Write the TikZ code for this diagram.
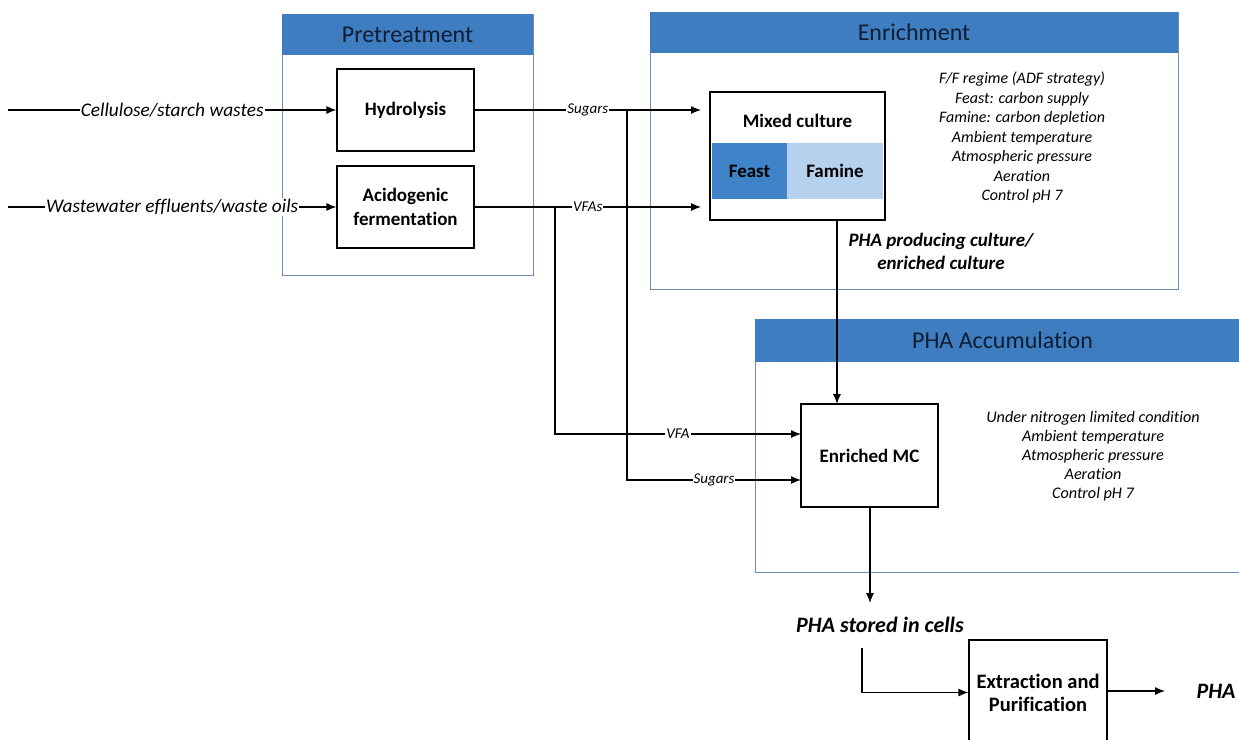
\documentclass[tikz,border=0pt]{standalone}
\usepackage{fontspec}
\setmainfont{Carlito}[Ligatures=NoCommon]
\usetikzlibrary{arrows.meta}
\definecolor{hdr}{HTML}{3D7DC0}
\definecolor{framec}{HTML}{6A8CB8}
\definecolor{feastc}{HTML}{3F83C8}
\definecolor{faminec}{HTML}{B5D1EE}
\definecolor{hdrtext}{HTML}{101D33}
\begin{document}
\begin{tikzpicture}[x=1pt,y=-1pt,
 stage/.style={draw=framec, line width=1pt, fill=white, inner sep=0pt},
 header/.style={fill=hdr, text=hdrtext, font=\fontsize{24}{28}\selectfont, inner sep=0pt},
 proc/.style={draw=black, line width=1.2pt, fill=white, font=\bfseries\fontsize{19}{23.5}\selectfont, align=center, inner sep=0pt},
 flow/.style={line width=1.2pt, -{Latex[length=10pt,width=8pt]}},
 inlab/.style={fill=white, inner sep=1pt, font=\itshape\fontsize{19.3}{23}\selectfont},
 slab/.style={fill=white, inner sep=1pt, font=\itshape\fontsize{15}{18}\selectfont},
 cond/.style={align=center, font=\itshape\fontsize{16}{19.5}\selectfont},
 outlab/.style={font=\bfseries\itshape\fontsize{19}{23}\selectfont, align=center},
]
\useasboundingbox (0,0) rectangle (1239,739);
\begin{scope}
\clip (0,0) rectangle (1239,739);
\fill[white] (0,0) rectangle (1239,739);

% stages
\node[stage, minimum width=251pt, minimum height=261pt] (pre) at (407.5,144.5) {};
\node[header, minimum width=251pt, minimum height=41pt] (preh) at (407.5,34.5) {Pretreatment};
\node[stage, minimum width=528pt, minimum height=277pt] (enr) at (914,150.5) {};
\node[header, minimum width=528pt, minimum height=41pt] (enrh) at (914,32.5) {Enrichment};
\node[stage, minimum width=495pt, minimum height=253pt] (acc) at (1002.5,445.5) {};
\node[header, minimum width=495pt, minimum height=43pt] (acch) at (1002.5,340.5) {PHA Accumulation};

% process boxes
\node[proc, minimum width=137pt, minimum height=82pt] (hyd) at (405.5,110) {Hydrolysis};
\node[proc, minimum width=137pt, minimum height=82pt] (acid) at (405.5,207) {Acidogenic\\fermentation};
\node[proc, minimum width=175pt, minimum height=128pt] (mc) at (797.5,156) {};
\node[font=\bfseries\fontsize{19}{23}\selectfont, inner sep=0pt] (mct) at (797.5,121) {Mixed culture};
\node[fill=feastc, minimum width=75pt, minimum height=56pt, inner sep=0pt, font=\bfseries\fontsize{19}{23}\selectfont] (feast) at (749.5,171) {Feast};
\node[fill=faminec, minimum width=96pt, minimum height=56pt, inner sep=0pt, font=\bfseries\fontsize{19}{23}\selectfont] (famine) at (835,171) {Famine};
\node[proc, minimum width=137pt, minimum height=103pt] (emc) at (869.5,455.5) {Enriched MC};
\node[proc, minimum width=138pt, minimum height=105pt, font=\bfseries\fontsize{20.5}{23}\selectfont] (ext) at (1038,692.5) {Extraction and\\Purification};

% condition texts
\node[cond] (encond) at (1022,137.5) {F/F regime (ADF strategy)\\Feast: carbon supply\\Famine: carbon depletion\\Ambient temperature\\Atmospheric pressure\\Aeration\\Control pH 7};
\node[cond, font=\itshape\fontsize{16.2}{19}\selectfont] (accond) at (1093,456) {Under nitrogen limited condition\\Ambient temperature\\Atmospheric pressure\\Aeration\\Control pH 7};
\node[outlab] (phaprod) at (941,251) {PHA producing culture/\\enriched culture};
\node[outlab, font=\bfseries\itshape\fontsize{22}{26}\selectfont] (stored) at (880,625) {PHA stored in cells};
\node[outlab, font=\bfseries\itshape\fontsize{22}{26}\selectfont, anchor=west] (pha) at (1193,691) {PHA};

% coordinates
\coordinate (in1) at (8,110);
\coordinate (in2) at (8,207);
\coordinate (s1) at (701,110);
\coordinate (v1) at (701,207);
\coordinate (vb) at (555,207);
\coordinate (sb) at (627,110);
\coordinate (vin) at (801,434);
\coordinate (sin) at (801,480);
\coordinate (mcb) at (837,220);
\coordinate (emt) at (837,404);
\coordinate (emb) at (870,507);
\coordinate (stt) at (870,603);
\coordinate (stb) at (862,648);
\coordinate (phat) at (1165,691);

% connectors
\draw[flow] (in1) -- node[inlab] {Cellulose/starch wastes} (hyd.west);
\draw[flow] (in2) -- node[inlab] {Wastewater effluents/waste oils} (acid.west);
\draw[flow] (hyd.east |- s1) -- node[slab] {Sugars} (s1);
\draw[flow] (acid.east |- v1) -- node[slab] {VFAs} (v1);
\draw[flow] (vb) |- node[slab, pos=0.75] {VFA} (vin);
\draw[flow] (sb) |- node[slab, pos=0.75] {Sugars} (sin);
\draw[flow] (mcb) -- (emt);
\draw[flow] (emb) -- (stt);
\draw[flow] (stb) |- (ext.west);
\draw[flow] (ext.east |- phat) -- (phat);
\end{scope}
\end{tikzpicture}
\end{document}
